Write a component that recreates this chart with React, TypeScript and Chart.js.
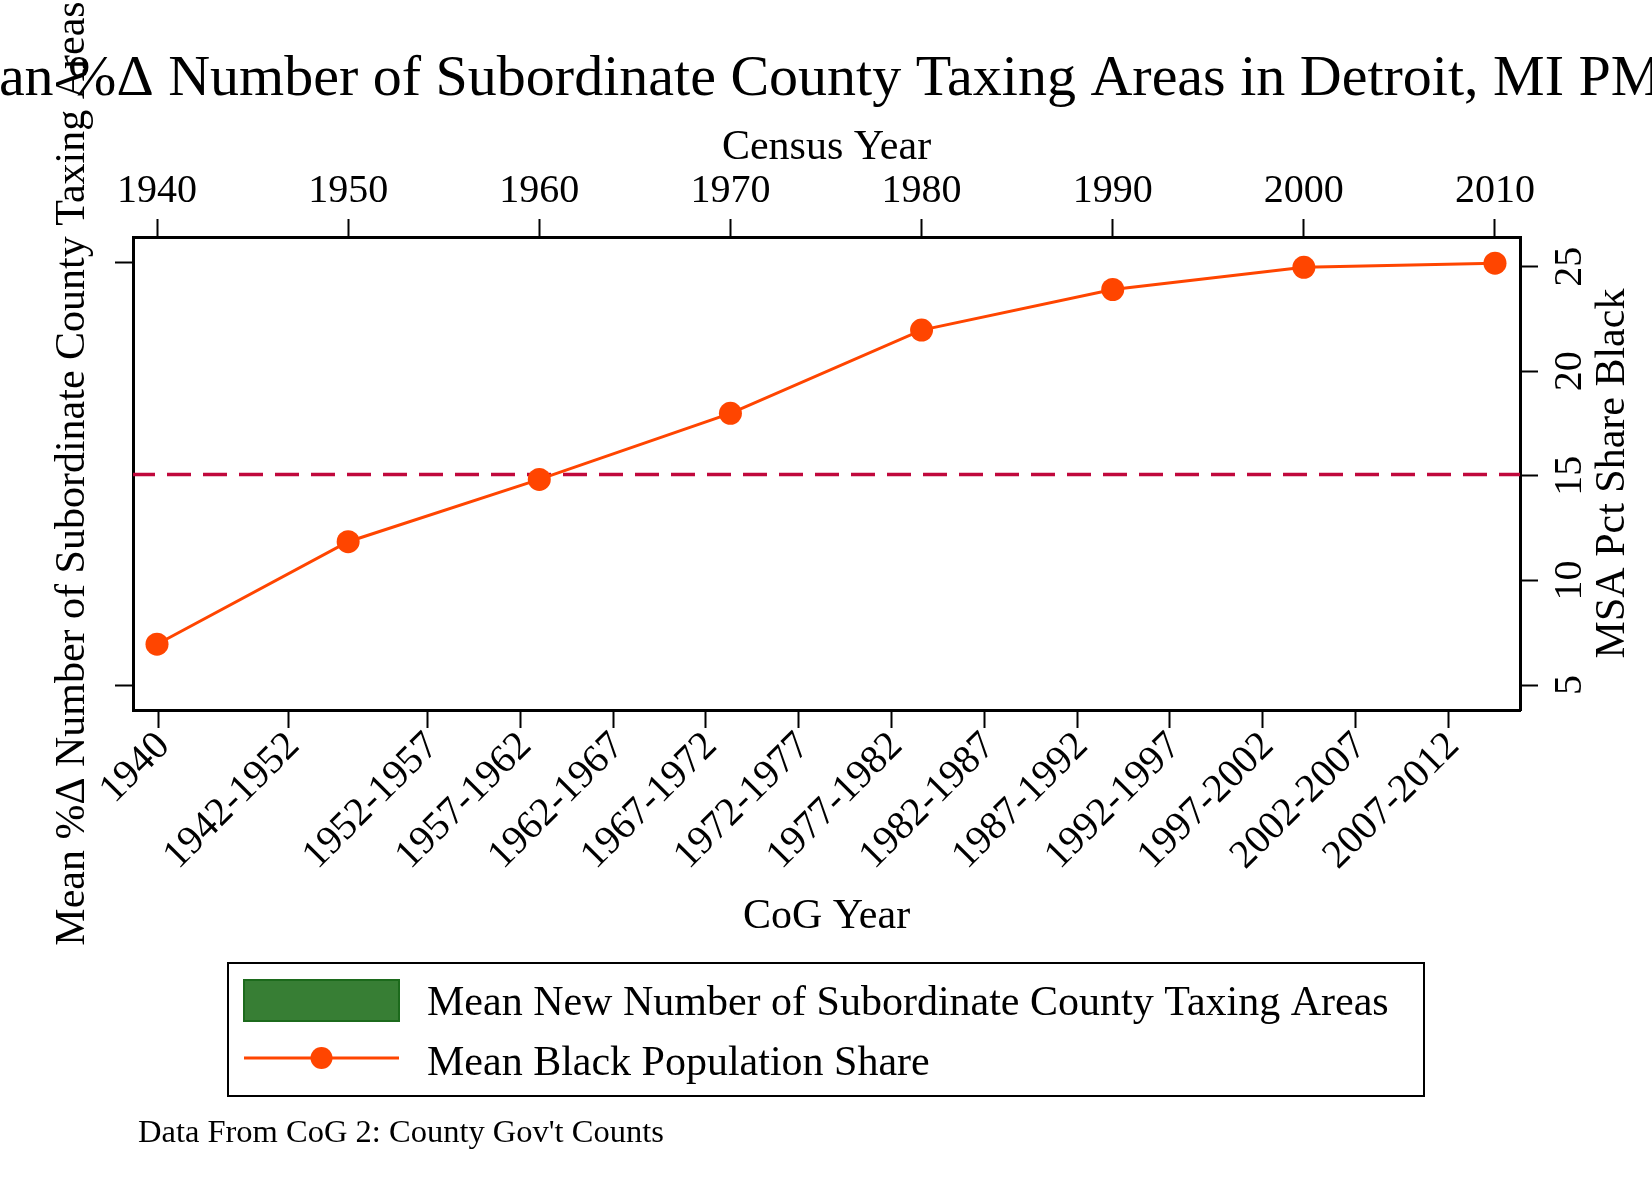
import React, { useEffect, useRef } from 'react';
import { Chart, registerables } from 'chart.js';

Chart.register(...registerables);

// ---------------- data ----------------
const chartTitle = 'Mean %Δ Number of Subordinate County Taxing Areas in Detroit, MI PMSA';
const leftAxisTitle = 'Mean %Δ Number of Subordinate County Taxing Areas';
const rightAxisTitle = 'MSA Pct Share Black';
const topAxisTitle = 'Census Year';
const bottomAxisTitle = 'CoG Year';
const footnote = "Data From CoG 2: County Gov't Counts";
const legendLabels = [
  'Mean New Number of Subordinate County Taxing Areas',
  'Mean Black Population Share',
];

// CoG (bottom) axis: category labels and their positions on the axis
const cogLabels = [
  '1940', '1942-1952', '1952-1957', '1957-1962', '1962-1967', '1967-1972', '1972-1977',
  '1977-1982', '1982-1987', '1987-1992', '1992-1997', '1997-2002', '2002-2007', '2007-2012',
];
const cogPositions = [1942.5, 1949.5, 1957, 1962, 1967, 1972, 1977, 1982, 1987, 1992, 1997, 2002, 2007, 2012];
// bars: no values shown in the figure
const newTaxingAreas = [null, null, null, null, null, null, null, null, null, null, null, null, null, null];

// Census (top) axis and black population share (right axis)
const censusYears = [1940, 1950, 1960, 1970, 1980, 1990, 2000, 2010];
const blackShare = [6.95, 11.85, 14.83, 17.99, 21.97, 23.91, 24.97, 25.17];
const shareTicks = [5, 10, 15, 20, 25];
const leftTicks = [0, 1];
const referenceShare = 15.07;

// ---------------- styles ----------------
const FONT = "'Liberation Serif', 'Times New Roman', Times, serif";
const W = 1652;
const H = 1201;
const PAD = { left: 20, right: 20, top: 110, bottom: 251 };
const AREA = { left: 133, right: 1520, top: 237, bottom: 710 };
const ORANGE = '#ff4500';
const CRIMSON = '#c0083c';
const GREEN = '#377e34';
const GREEN_EDGE = '#1c6a1c';

function drawText(
  ctx: CanvasRenderingContext2D,
  text: string,
  x: number,
  y: number,
  size: number,
  align: CanvasTextAlign = 'center',
  rotate = 0,
  stretch = 1,
) {
  ctx.save();
  ctx.translate(x, y);
  if (rotate) ctx.rotate(rotate);
  ctx.scale(stretch, 1);
  ctx.font = `${size}px ${FONT}`;
  ctx.textAlign = align;
  ctx.textBaseline = 'alphabetic';
  ctx.fillStyle = '#000';
  ctx.fillText(text, 0, 0);
  ctx.restore();
}

const refLinePlugin = {
  id: 'refLine',
  beforeDatasetsDraw(chart: any) {
    const { ctx, chartArea } = chart;
    const y = chart.scales.y2.getPixelForValue(referenceShare);
    ctx.save();
    ctx.strokeStyle = CRIMSON;
    ctx.lineWidth = 3.5;
    ctx.setLineDash([24, 12]);
    ctx.lineDashOffset = 2;
    ctx.beginPath();
    ctx.moveTo(chartArea.left, y);
    ctx.lineTo(chartArea.right, y);
    ctx.stroke();
    ctx.restore();
  },
};

const decorPlugin = {
  id: 'decor',
  afterDraw(chart: any) {
    const { ctx, chartArea } = chart;
    const cx = (chartArea.left + chartArea.right) / 2;
    const cy = (chartArea.top + chartArea.bottom) / 2;
    // main title
    drawText(ctx, chartTitle, 829, 95, 58);
    // axis titles
    drawText(ctx, topAxisTitle, cx, 159, 42);
    drawText(ctx, bottomAxisTitle, cx, 928, 42);
    drawText(ctx, leftAxisTitle, 84, cy, 42, 'center', -Math.PI / 2);
    drawText(ctx, rightAxisTitle, 1624, cy, 42, 'center', -Math.PI / 2);

    // legend
    ctx.save();
    ctx.strokeStyle = '#000';
    ctx.lineWidth = 2;
    ctx.strokeRect(228, 963, 1196, 133);
    ctx.fillStyle = GREEN;
    ctx.fillRect(244, 980, 155, 41);
    ctx.strokeStyle = GREEN_EDGE;
    ctx.lineWidth = 2;
    ctx.strokeRect(244, 980, 155, 41);
    ctx.strokeStyle = ORANGE;
    ctx.lineWidth = 3;
    ctx.beginPath();
    ctx.moveTo(244, 1058);
    ctx.lineTo(399, 1058);
    ctx.stroke();
    ctx.fillStyle = ORANGE;
    ctx.beginPath();
    ctx.arc(321.5, 1058, 11, 0, Math.PI * 2);
    ctx.fill();
    ctx.restore();
    drawText(ctx, legendLabels[0], 427, 1015, 42, 'left');
    drawText(ctx, legendLabels[1], 427, 1075, 42, 'left');

    // footnote
    drawText(ctx, footnote, 138, 1142, 32.5, 'left');
  },
};

const tickGrid = {
  offset: false,
  drawOnChartArea: false,
  drawTicks: true,
  tickLength: 18,
  tickWidth: 2,
  tickColor: '#000',
};
const axisBorder = { display: true, color: '#000', width: 3 };
const tickFont = { family: FONT, size: 40 };

export default function App() {
  const canvasRef = useRef<HTMLCanvasElement | null>(null);

  useEffect(() => {
    const canvas = canvasRef.current;
    if (!canvas) return;
    const chart = new Chart(canvas, {
      type: 'line',
      data: {
        datasets: [
          {
            type: 'bar',
            label: legendLabels[0],
            data: cogPositions.map((x, i) => ({ x, y: newTaxingAreas[i] })) as any,
            xAxisID: 'x',
            yAxisID: 'y',
            backgroundColor: GREEN,
            borderColor: GREEN_EDGE,
            borderWidth: 2,
          },
          {
            type: 'line',
            label: legendLabels[1],
            data: censusYears.map((x, i) => ({ x, y: blackShare[i] })),
            xAxisID: 'x2',
            yAxisID: 'y2',
            borderColor: ORANGE,
            backgroundColor: ORANGE,
            borderWidth: 3,
            pointRadius: 11.5,
            pointHoverRadius: 11.5,
            pointBorderWidth: 0,
            pointBackgroundColor: ORANGE,
            tension: 0,
            fill: false,
          },
        ],
      },
      options: {
        responsive: false,
        animation: false,
        events: [],
        layout: { padding: PAD },
        plugins: {
          legend: { display: false },
          title: { display: false },
          tooltip: { enabled: false },
        },
        scales: {
          x: {
            type: 'linear',
            position: 'bottom',
            offset: false,
            min: 1941.12,
            max: 2015.87,
            bounds: 'data',
            grid: tickGrid,
            border: axisBorder,
            ticks: {
              autoSkip: false,
              minRotation: 45,
              maxRotation: 45,
              padding: -5,
              labelOffset: 5,
              color: '#000',
              font: tickFont,
              callback: (_v: any, i: number) => cogLabels[i],
            },
            afterBuildTicks: (s: any) => {
              s.ticks = cogPositions.map((v) => ({ value: v }));
            },
            afterFit: (s: any) => {
              s.height = H - PAD.bottom - AREA.bottom;
            },
          },
          x2: {
            type: 'linear',
            position: 'top',
            offset: false,
            min: 1938.744,
            max: 2011.308,
            bounds: 'data',
            grid: tickGrid,
            border: axisBorder,
            ticks: {
              autoSkip: false,
              minRotation: 0,
              maxRotation: 0,
              padding: 4,
              color: '#000',
              font: tickFont,
              callback: (v: any) => String(v),
            },
            afterBuildTicks: (s: any) => {
              s.ticks = censusYears.map((v) => ({ value: v }));
            },
            afterFit: (s: any) => {
              s.height = AREA.top - PAD.top;
            },
          },
          y: {
            type: 'linear',
            position: 'left',
            offset: false,
            min: -0.0592,
            max: 1.0616,
            bounds: 'data',
            grid: tickGrid,
            border: axisBorder,
            ticks: { display: false },
            afterBuildTicks: (s: any) => {
              s.ticks = leftTicks.map((v) => ({ value: v }));
            },
            afterFit: (s: any) => {
              s.width = AREA.left - PAD.left;
            },
          },
          y2: {
            type: 'linear',
            position: 'right',
            offset: false,
            min: 3.805,
            max: 26.42,
            bounds: 'data',
            grid: tickGrid,
            border: axisBorder,
            ticks: {
              autoSkip: false,
              minRotation: 90,
              maxRotation: 90,
              crossAlign: 'center',
              padding: 12,
              color: '#000',
              font: tickFont,
              callback: (v: any) => String(v),
            },
            afterBuildTicks: (s: any) => {
              s.ticks = shareTicks.map((v) => ({ value: v }));
            },
            afterFit: (s: any) => {
              s.width = W - PAD.right - AREA.right;
            },
          },
        },
      } as any,
      plugins: [refLinePlugin, decorPlugin],
    });
    return () => chart.destroy();
  }, []);

  return (
    <div style={{ position: 'absolute', left: 0, top: 0, width: W, height: H, background: '#fff' }}>
      <canvas ref={canvasRef} width={W} height={H} style={{ display: 'block', width: W, height: H }} />
    </div>
  );
}
